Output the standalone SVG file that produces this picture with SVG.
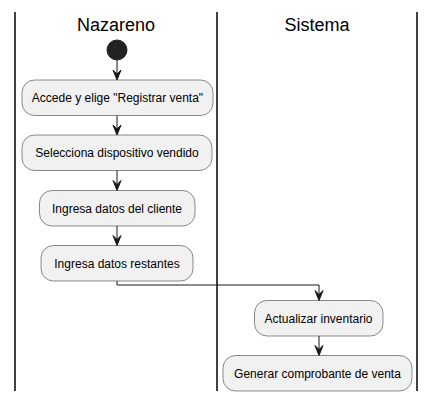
<svg xmlns="http://www.w3.org/2000/svg" width="435" height="401" viewBox="0 0 435 401">
<style>
.lane{stroke:#000;stroke-width:1.5;fill:none}
.title{font-family:"Liberation Sans",Arial,sans-serif;font-size:18px;fill:#000;text-anchor:middle}
.box{fill:#F1F1F1;stroke:#181818;stroke-width:0.5}
.lbl{font-family:"Liberation Sans",Arial,sans-serif;font-size:12px;fill:#000;text-anchor:middle}
.edge{stroke:#181818;stroke-width:1;fill:none}
.head{fill:#181818;stroke:#181818;stroke-width:1}
</style>
<rect width="435" height="401" fill="#FFFFFF"/>
<g id="lanes">
<line class="lane" x1="15" y1="12" x2="15" y2="391"/>
<line class="lane" x1="217" y1="12" x2="217" y2="391"/>
<line class="lane" x1="417" y1="12" x2="417" y2="391"/>
<text class="title" x="116" y="31">Nazareno</text>
<text class="title" x="317" y="31">Sistema</text>
</g>
<g id="start"><circle cx="117" cy="50" r="10" fill="#222222" stroke="#222222"/></g>
<g id="n1"><rect class="box" x="22" y="80" width="191" height="35.5" rx="12.5"/><text class="lbl" x="117.5" y="102">Accede y elige "Registrar venta"</text></g>
<g id="n2"><rect class="box" x="22" y="135" width="190" height="35.5" rx="12.5"/><text class="lbl" x="117" y="157">Selecciona dispositivo vendido</text></g>
<g id="n3"><rect class="box" x="39.5" y="190.5" width="155.5" height="35.5" rx="12.5"/><text class="lbl" x="117" y="212.5">Ingresa datos del cliente</text></g>
<g id="n4"><rect class="box" x="41" y="245.5" width="152" height="35.5" rx="12.5"/><text class="lbl" x="117" y="267.5">Ingresa datos restantes</text></g>
<g id="n5"><rect class="box" x="254.5" y="300.5" width="128.5" height="35.5" rx="12.5"/><text class="lbl" x="318.5" y="322.5">Actualizar inventario</text></g>
<g id="n6"><rect class="box" x="223" y="355.5" width="189" height="35.5" rx="12.5"/><text class="lbl" x="317.5" y="377.5">Generar comprobante de venta</text></g>
<g id="connectors">
<line class="edge" x1="117" y1="60" x2="117" y2="78"/>
<polygon class="head" points="113,70 117,80 121,70 117,74"/>
<line class="edge" x1="117" y1="115.5" x2="117" y2="133"/>
<polygon class="head" points="113,125 117,135 121,125 117,129"/>
<line class="edge" x1="117" y1="170.5" x2="117" y2="188"/>
<polygon class="head" points="113,180.5 117,190.5 121,180.5 117,184.5"/>
<line class="edge" x1="117" y1="226" x2="117" y2="243"/>
<polygon class="head" points="113,235.5 117,245.5 121,235.5 117,239.5"/>
<polyline class="edge" points="117,281 117,285 319,285 319,298"/>
<polygon class="head" points="315,290.5 319,300.5 323,290.5 319,294.5"/>
<line class="edge" x1="319" y1="336" x2="319" y2="353"/>
<polygon class="head" points="315,345.5 319,355.5 323,345.5 319,349.5"/>
</g>
</svg>
